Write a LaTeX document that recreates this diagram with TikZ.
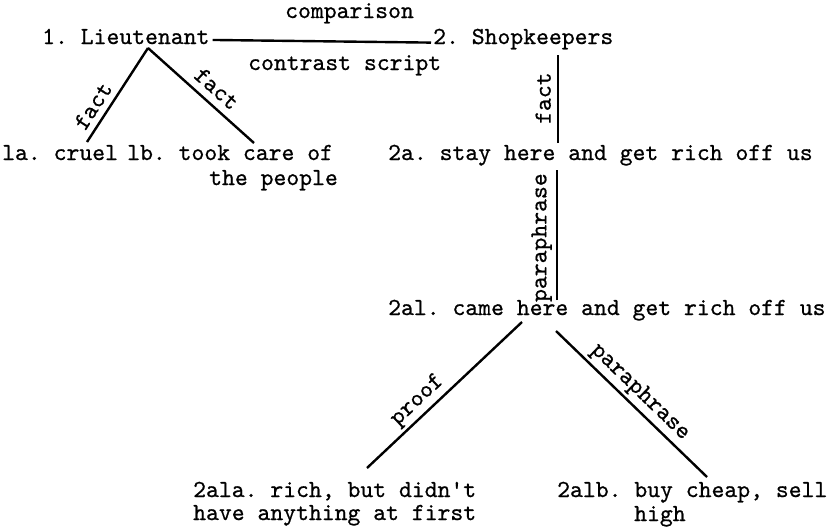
\documentclass[tikz,border=0pt]{standalone}
\usepackage{fontspec}
\setmonofont{lmmono10-regular.otf}[FakeBold=0.7]
\begin{document}
\begin{tikzpicture}[x=1pt,y=-1pt,
  tw/.style={font=\fontsize{24.5}{24}\selectfont\ttfamily\frenchspacing},
  txt/.style={tw, inner sep=0pt, anchor=base west},
  rel/.style={tw, sloped, above},
  link/.style={line width=2.4pt}]
\useasboundingbox (0,0) rectangle (829,531);
% text nodes
\node[txt] (lt)  at (42,44)  {1. Lieutenant};
\node[txt] (sk)  at (433,44) {2. Shopkeepers};
\node[txt] (cmp) at (285,18) {comparison};
\node[txt] (cs)  at (248,70) {contrast script};
\node[txt] (la)  at (2,160)  {la. cruel};
\node[txt] (lb)  at (127,160) {lb. took care of};
\node[txt] (lb2) at (209,185) {the people};
\node[txt] (ta)  at (388,160) {2a. stay here and get rich off us};
\node[txt] (tal) at (388,315) {2al. came here and get rich off us};
\node[txt] (tala) at (193,497) {2ala. rich, but didn't};
\node[txt] (tala2) at (193,520) {have anything at first};
\node[txt] (talb) at (557,497) {2alb. buy cheap, sell};
\node[txt] (talb2) at (634,521) {high};
% connector end points
\coordinate (ltb) at (148,48);
\coordinate (lae) at (87,142);
\coordinate (lbe) at (254,143);
\coordinate (skb) at (558,55);
\coordinate (tat) at (558,143);
\coordinate (tab) at (557,170);
\coordinate (talt) at (557,300);
\coordinate (tbl) at (522,322);
\coordinate (tbr) at (556,331);
\coordinate (alae) at (367,468);
\coordinate (albe) at (707,477);
% connectors
\draw[link] ([xshift=3pt,yshift=-3.5pt]lt.east) -- ([xshift=-2pt,yshift=-3.5pt]sk.west);
\draw[link] (lae) -- node[rel, pos=0.3, inner sep=6pt] {fact} (ltb);
\draw[link] (ltb) -- node[rel, pos=0.55, inner sep=7pt] {fact} (lbe);
\draw[link] (tat) -- node[rel, pos=0.51, inner sep=6pt] {fact} (skb);
\draw[link] (talt) -- node[rel, pos=0.48, inner sep=4pt] {paraphrase} (tab);
\draw[link] (alae) -- node[rel, pos=0.39, inner sep=3pt] {proof} (tbl);
\draw[link] (tbr) -- node[rel, pos=0.49, inner sep=3pt] {paraphrase} (albe);
\end{tikzpicture}
\end{document}
